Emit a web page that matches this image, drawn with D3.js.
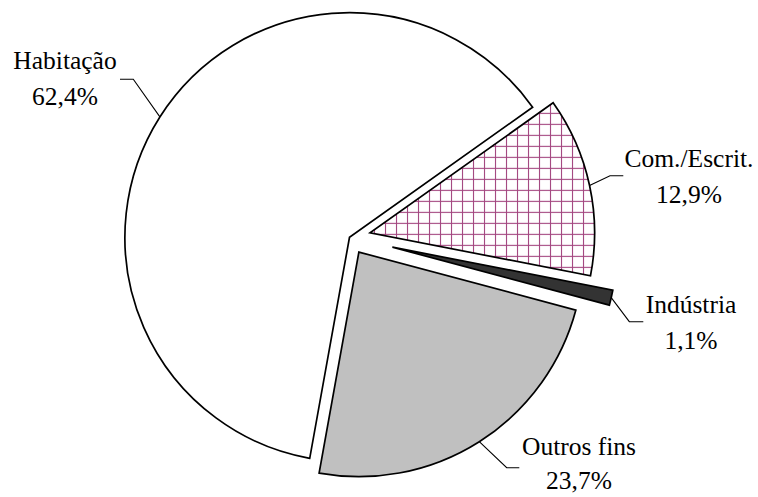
<!DOCTYPE html>
<html><head><meta charset="utf-8">
<script src="https://cdn.jsdelivr.net/npm/d3@7"></script>
<style>body{margin:0;background:#fff}</style>
</head><body>
<svg id="chart" width="758" height="497"></svg>
<script>
const categories = ["Habitação", "Com./Escrit.", "Indústria", "Outros fins"];
const values = [62.4, 12.9, 1.1, 23.7];
const valueLabels = ["62,4%", "12,9%", "1,1%", "23,7%"];

// layout (not data)
const explode = [0, 21, 44, 17.5];
const fills = ["#ffffff", "url(#grid)", "#333333", "#c0c0c0"];
const labelPos = [[65, 69], [689, 167], [691, 313], [579, 455]];
const lineGap = [36, 36, 36, 34];
const elbows = [[133.3, 79.3, 120], [610, 175.7, 623.3], [629.3, 321.7, 643.3], [506.7, 467.7, 519.3]];
const cx = 349.5, cy = 237.3, R = 224.6;

const svg = d3.select("#chart");
const defs = svg.append("defs");
const pat = defs.append("pattern").attr("id", "grid").attr("patternUnits", "userSpaceOnUse")
  .attr("width", 11).attr("height", 11).attr("x", 0).attr("y", 0);
pat.append("rect").attr("width", 11).attr("height", 11).attr("fill", "#fff");
pat.append("line").attr("x1", 4.5).attr("x2", 4.5).attr("y1", 0).attr("y2", 11)
  .attr("stroke", "#a3457f").attr("stroke-width", 1.1);
pat.append("line").attr("y1", 1.5).attr("y2", 1.5).attr("x1", 0).attr("x2", 11)
  .attr("stroke", "#a3457f").attr("stroke-width", 1.1);

const start = 190.2 * Math.PI / 180;
const pie = d3.pie().sort(null).startAngle(start).endAngle(start + 2 * Math.PI).value(d => d);
const arcs = pie(values);
const arc = d3.arc().innerRadius(0).outerRadius(R);

const g = svg.append("g").attr("transform", `translate(${cx},${cy})`);

arcs.forEach((a, i) => {
  const mid = (a.startAngle + a.endAngle) / 2;
  const ox = explode[i] * Math.sin(mid), oy = -explode[i] * Math.cos(mid);
  g.append("path").attr("d", arc(a))
    .attr("transform", `translate(${ox},${oy})`)
    .attr("fill", fills[i]).attr("stroke", "#000").attr("stroke-width", 1.7)
    .attr("stroke-linejoin", "miter");
  const sx = cx + ox + R * Math.sin(mid), sy = cy + oy - R * Math.cos(mid);
  const e = elbows[i];
  svg.append("polyline")
    .attr("points", `${sx},${sy} ${e[0]},${e[1]} ${e[2]},${e[1]}`)
    .attr("fill", "none").attr("stroke", "#000").attr("stroke-width", 1.1);
  const t = svg.append("text").attr("x", labelPos[i][0]).attr("y", labelPos[i][1])
    .attr("text-anchor", "middle")
    .attr("font-family", "'Liberation Serif', 'Times New Roman', serif")
    .attr("font-size", 25.5).attr("fill", "#000");
  t.append("tspan").attr("x", labelPos[i][0]).text(categories[i]);
  t.append("tspan").attr("x", labelPos[i][0]).attr("dy", lineGap[i]).text(valueLabels[i]);
});
</script>
</body></html>
